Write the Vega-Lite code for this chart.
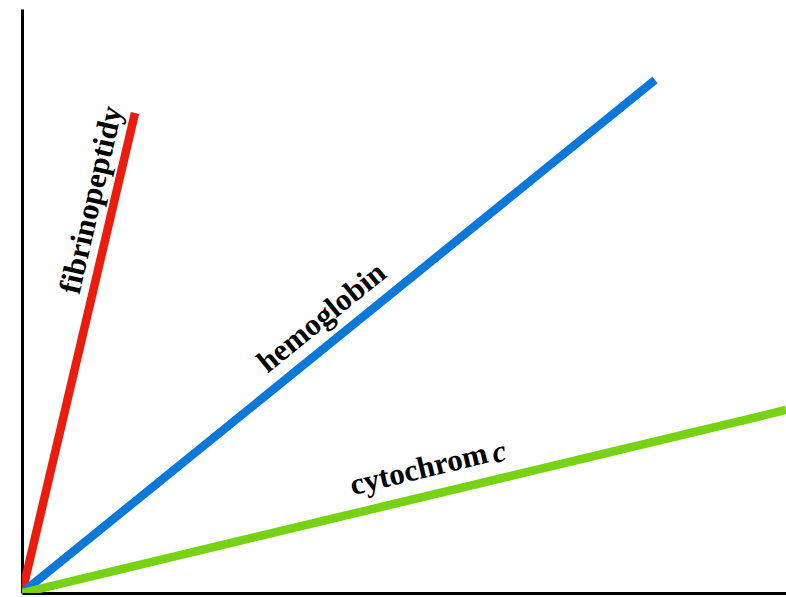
{
  "$schema": "https://vega.github.io/schema/vega-lite/v6.json",
  "width": 764,
  "height": 584,
  "autosize": "none",
  "padding": {"left": 22, "top": 9, "right": 0, "bottom": 4},
  "background": "white",
  "config": {"view": {"stroke": null}},
  "datasets": {
    "lines": [
      {"protein": "fibrinopeptidy", "t": 0, "y": 0},
      {"protein": "fibrinopeptidy", "t": 113, "y": 480},
      {"protein": "hemoglobin", "t": 0, "y": 0},
      {"protein": "hemoglobin", "t": 633, "y": 513},
      {"protein": "cytochrom c", "t": 0, "y": 0},
      {"protein": "cytochrom c", "t": 764, "y": 183}
    ],
    "labels": [
      {"label": "fibrinopeptidy", "t": 70, "y": 393, "angle": -77},
      {"label": "hemoglobin", "t": 300, "y": 275, "angle": -39},
      {"label": "cytochrom", "t": 397, "y": 123, "angle": -13.5}
    ],
    "italic": [
      {"label": "c", "t": 477, "y": 140, "angle": -13.5}
    ]
  },
  "layer": [
    {
      "data": {"name": "lines"},
      "mark": {"type": "line", "strokeWidth": 8.5, "strokeCap": "butt", "clip": true},
      "encoding": {
        "x": {"field": "t", "type": "quantitative", "scale": {"domain": [0, 764], "nice": false, "zero": false},
              "axis": {"title": null, "labels": false, "ticks": false, "grid": false, "domainColor": "black", "domainWidth": 3}},
        "y": {"field": "y", "type": "quantitative", "scale": {"domain": [0, 584], "nice": false, "zero": false},
              "axis": {"title": null, "labels": false, "ticks": false, "grid": false, "domainColor": "black", "domainWidth": 3}},
        "color": {"field": "protein", "type": "nominal", "legend": null,
                  "scale": {"domain": ["fibrinopeptidy", "hemoglobin", "cytochrom c"], "range": ["#ec1c0c", "#0a78d8", "#78d214"]}},
        "detail": {"field": "protein"}
      }
    },
    {
      "data": {"name": "labels"},
      "mark": {"type": "text", "font": "'Liberation Serif'", "fontWeight": 700, "fontSize": 31, "color": "black", "align": "center", "baseline": "middle"},
      "encoding": {
        "x": {"field": "t", "type": "quantitative"},
        "y": {"field": "y", "type": "quantitative"},
        "angle": {"field": "angle", "type": "quantitative", "scale": null},
        "text": {"field": "label"}
      }
    },
    {
      "data": {"name": "italic"},
      "mark": {"type": "text", "font": "'Liberation Serif'", "fontWeight": 700, "fontStyle": "italic", "fontSize": 31, "color": "black", "align": "center", "baseline": "middle"},
      "encoding": {
        "x": {"field": "t", "type": "quantitative"},
        "y": {"field": "y", "type": "quantitative"},
        "angle": {"field": "angle", "type": "quantitative", "scale": null},
        "text": {"field": "label"}
      }
    }
  ]
}
